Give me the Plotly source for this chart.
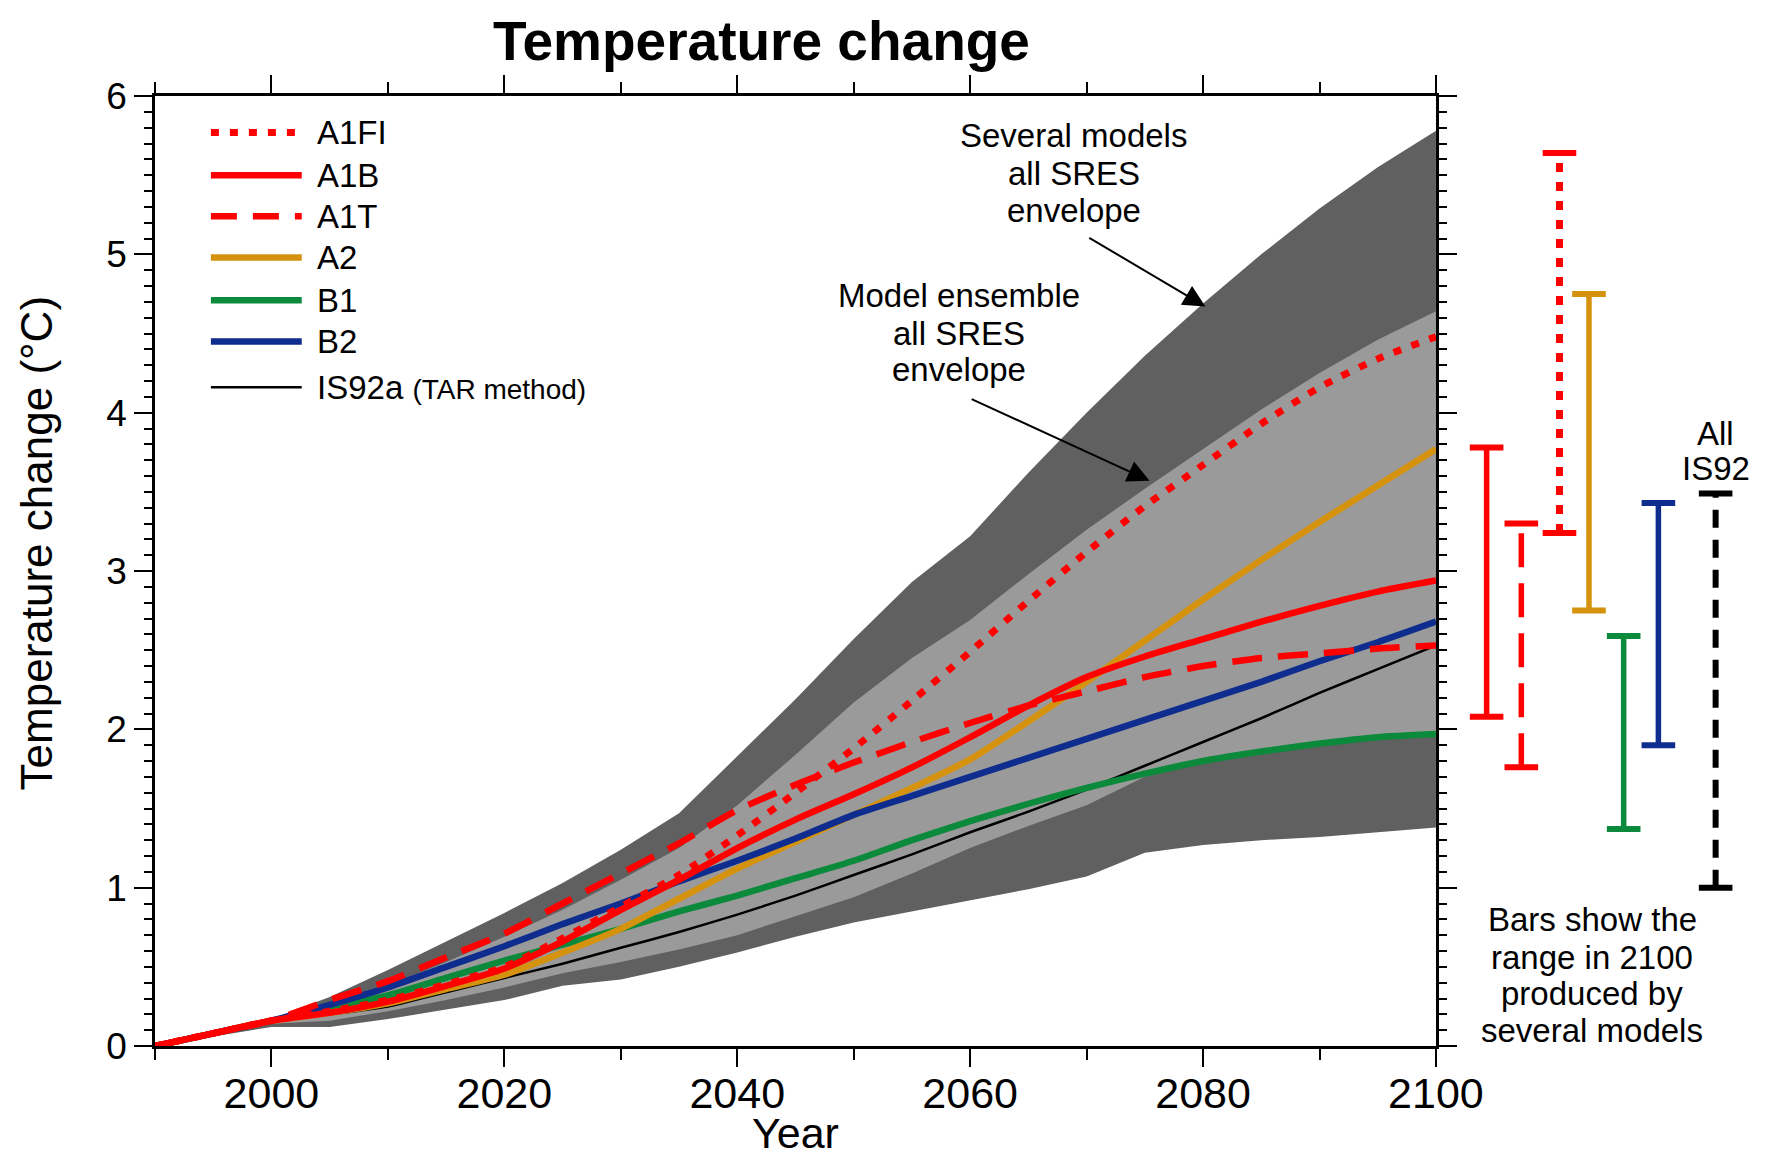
import plotly.graph_objects as go

# scenario curves (deg C relative to 1990)
years = [1990, 1995, 2000, 2005, 2010, 2015, 2020, 2025, 2030, 2035, 2040, 2045, 2050,
         2055, 2060, 2065, 2070, 2075, 2080, 2085, 2090, 2095, 2100]
a1fi = [0, 0.08, 0.16, 0.22, 0.29, 0.39, 0.50, 0.68, 0.88, 1.08, 1.33, 1.60, 1.88,
        2.18, 2.49, 2.81, 3.12, 3.41, 3.67, 3.93, 4.16, 4.34, 4.48]
a1b = [0, 0.08, 0.16, 0.21, 0.28, 0.38, 0.49, 0.66, 0.86, 1.05, 1.25, 1.43, 1.59,
       1.76, 1.95, 2.15, 2.33, 2.46, 2.57, 2.68, 2.78, 2.87, 2.94]
a1t = [0, 0.08, 0.16, 0.29, 0.41, 0.56, 0.71, 0.90, 1.09, 1.28, 1.49, 1.65, 1.79,
       1.92, 2.04, 2.15, 2.24, 2.33, 2.40, 2.45, 2.48, 2.51, 2.53]
a2 = [0, 0.08, 0.16, 0.21, 0.27, 0.36, 0.45, 0.59, 0.74, 0.93, 1.12, 1.29, 1.46,
      1.63, 1.81, 2.05, 2.30, 2.56, 2.82, 3.07, 3.31, 3.54, 3.77]
b1 = [0, 0.08, 0.16, 0.24, 0.32, 0.43, 0.54, 0.64, 0.74, 0.85, 0.95, 1.06, 1.17,
      1.30, 1.42, 1.53, 1.63, 1.72, 1.80, 1.86, 1.91, 1.95, 1.97]
b2 = [0, 0.08, 0.16, 0.26, 0.37, 0.50, 0.63, 0.77, 0.90, 1.04, 1.17, 1.31, 1.46,
      1.58, 1.70, 1.82, 1.94, 2.06, 2.18, 2.30, 2.43, 2.55, 2.68]
is92a = [0, 0.08, 0.16, 0.20, 0.25, 0.34, 0.43, 0.52, 0.62, 0.72, 0.83, 0.95, 1.08,
         1.21, 1.35, 1.48, 1.62, 1.77, 1.92, 2.07, 2.23, 2.38, 2.53]

# envelopes
env_years = [1990, 2000, 2005, 2010, 2015, 2020, 2025, 2030, 2035, 2040, 2045, 2050,
             2055, 2060, 2065, 2070, 2075, 2080, 2085, 2090, 2095, 2100]
outer_hi = [0, 0.17, 0.31, 0.48, 0.66, 0.84, 1.03, 1.24, 1.47, 1.83, 2.19, 2.57,
            2.93, 3.22, 3.62, 4.00, 4.36, 4.69, 5.00, 5.29, 5.55, 5.78]
outer_lo = [0, 0.12, 0.12, 0.17, 0.23, 0.29, 0.38, 0.42, 0.50, 0.59, 0.69, 0.78,
            0.85, 0.92, 0.99, 1.07, 1.22, 1.27, 1.30, 1.32, 1.35, 1.38]
inner_hi = [0, 0.16, 0.25, 0.38, 0.53, 0.69, 0.86, 1.05, 1.25, 1.52, 1.84, 2.17,
            2.45, 2.69, 2.98, 3.26, 3.52, 3.77, 4.02, 4.25, 4.46, 4.64]
inner_lo = [0, 0.14, 0.16, 0.22, 0.29, 0.37, 0.46, 0.53, 0.61, 0.70, 0.82, 0.94,
            1.09, 1.25, 1.39, 1.52, 1.70, 1.80, 1.86, 1.91, 1.95, 1.97]

# ranges in 2100
bar_names = ['A1B', 'A1T', 'A1FI', 'A2', 'B1', 'B2', 'IS92']
bar_low = [2.08, 1.76, 3.24, 2.75, 1.37, 1.90, 1.00]
bar_high = [3.78, 3.30, 5.64, 4.75, 2.59, 3.43, 3.49]
bar_slot = [0, 1, 2.1, 2.95, 3.95, 4.95, 6.6]

RED = '#ff0000'
ORANGE = '#d4920f'
GREEN = '#0a8a3a'
BLUE = '#0e2d8e'
FONT = 'Liberation Sans, Arial, sans-serif'

fig = go.Figure()


def band(hi, lo, color):
    fig.add_trace(go.Scatter(
        x=env_years + env_years[::-1],
        y=hi + lo[::-1],
        fill='toself', fillcolor=color,
        line=dict(width=0), mode='lines',
        hoverinfo='skip', showlegend=False
    ))


band(outer_hi, outer_lo, '#606060')
band(inner_hi, inner_lo, '#9a9a9a')

series = [
    ('IS92a', is92a, 'black', 'solid', 2.5),
    ('B1', b1, GREEN, 'solid', 6.5),
    ('A2', a2, ORANGE, 'solid', 6.5),
    ('B2', b2, BLUE, 'solid', 6.5),
    ('A1B', a1b, RED, 'solid', 6.5),
    ('A1T', a1t, RED, '30px,16px', 6.5),
    ('A1FI', a1fi, RED, '8px,11px', 7),
]
for name, vals, color, dash, width in series:
    fig.add_trace(go.Scatter(
        x=years, y=vals, name=name, mode='lines',
        line=dict(color=color, dash=dash, width=width, shape='spline', smoothing=0.6),
        showlegend=False
    ))

# bars at the right
bar_style = {
    'A1B': (RED, 'solid', 5.5),
    'A1T': (RED, '34px,16px', 5.5),
    'A1FI': (RED, '9px,10px', 7),
    'A2': (ORANGE, 'solid', 5.5),
    'B1': (GREEN, 'solid', 5.5),
    'B2': (BLUE, 'solid', 5.5),
    'IS92': ('black', '18px,12px', 6),
}
for name, lo, hi, slot in zip(bar_names, bar_low, bar_high, bar_slot):
    color, dash, width = bar_style[name]
    fig.add_trace(go.Scatter(
        x=[slot, slot], y=[lo, hi], mode='lines',
        line=dict(color=color, dash=dash, width=width),
        xaxis='x2', yaxis='y', showlegend=False, name=name
    ))
    fig.add_trace(go.Scatter(
        x=[slot, slot], y=[lo, hi], mode='markers',
        marker=dict(symbol='line-ew', size=24, line=dict(color=color, width=6)),
        xaxis='x2', yaxis='y', showlegend=False, name=name, cliponaxis=False
    ))

# hand-made legend
legend_rows = ['A1FI', 'A1B', 'A1T', 'A2', 'B1', 'B2', 'IS92a']
legend_y = [5.77, 5.50, 5.24, 4.98, 4.71, 4.45, 4.16]
legend_style = {
    'A1FI': (RED, '8px,11px', 7),
    'A1B': (RED, 'solid', 6.5),
    'A1T': (RED, '26px,16px', 6.5),
    'A2': (ORANGE, 'solid', 6.5),
    'B1': (GREEN, 'solid', 6.5),
    'B2': (BLUE, 'solid', 6.5),
    'IS92a': ('black', 'solid', 2.5),
}
shapes = []
annotations = []
for name, yv in zip(legend_rows, legend_y):
    color, dash, width = legend_style[name]
    shapes.append(dict(type='line', xref='x', yref='y', x0=1994.8, x1=2002.6, y0=yv, y1=yv,
                       line=dict(color=color, dash=dash, width=width)))
    label = name if name != 'IS92a' else "IS92a <span style='font-size:28px'>(TAR method)</span>"
    annotations.append(dict(x=2003.7, y=yv, xref='x', yref='y', text=label, showarrow=False,
                            xanchor='left', yanchor='middle', font=dict(size=33, color='black')))

# envelope labels
label_lines = [
    (2068.9, [5.75, 5.51, 5.28], ['Several models', 'all SRES', 'envelope']),
    (2059.0, [4.74, 4.50, 4.27], ['Model ensemble', 'all SRES', 'envelope']),
]
for xc, ys, texts in label_lines:
    for yv, t in zip(ys, texts):
        annotations.append(dict(x=xc, y=yv, xref='x', yref='y', text=t, showarrow=False,
                                xanchor='center', yanchor='middle', font=dict(size=33, color='black')))

arrows = [((2080.2, 4.67), (2070.1, 5.11)), ((2075.4, 3.57), (2060.0, 4.09))]
for (tx, ty), (sx, sy) in arrows:
    annotations.append(dict(x=tx, y=ty, ax=sx, ay=sy, xref='x', yref='y', axref='x', ayref='y',
                            text='', showarrow=True, arrowhead=2, arrowsize=2.2, arrowwidth=2,
                            arrowcolor='black'))

# bar notes
annotations.append(dict(x=bar_slot[-1], y=3.87, xref='x2', yref='y', text='All', showarrow=False,
                        font=dict(size=33, color='black')))
annotations.append(dict(x=bar_slot[-1], y=3.65, xref='x2', yref='y', text='IS92', showarrow=False,
                        font=dict(size=33, color='black')))
note_lines = ['Bars show the', 'range in 2100', 'produced by', 'several models']
note_y = [0.80, 0.56, 0.33, 0.10]
for t, yv in zip(note_lines, note_y):
    annotations.append(dict(x=3.05, y=yv, xref='x2', yref='y', text=t, showarrow=False,
                            font=dict(size=33, color='black')))

# titles (paper coordinates, outside the plot area)
annotations.append(dict(x=0.3784, y=1.058, xref='paper', yref='paper', text='<b>Temperature change</b>',
                        xanchor='center', yanchor='middle', borderpad=0,
                        showarrow=False, font=dict(size=55, color='black')))
annotations.append(dict(x=0.3996, y=-0.0915, xref='paper', yref='paper', text='Year',
                        xanchor='center', yanchor='middle', borderpad=0,
                        showarrow=False, font=dict(size=43, color='black')))
annotations.append(dict(x=-0.0742, y=0.529, xref='paper', yref='paper', text='Temperature change (\u00b0C)',
                        xanchor='center', yanchor='middle',
                        textangle=-90, showarrow=False, font=dict(size=44, color='black')))

fig.update_layout(
    width=1761, height=1152,
    margin=dict(l=147, r=10, t=88, b=114, autoexpand=False),
    paper_bgcolor='white', plot_bgcolor='white',
    font=dict(family=FONT, color='black'),
    showlegend=False,
    shapes=shapes,
    annotations=annotations,
    xaxis=dict(
        domain=[0, 0.7986], range=[1990, 2100], tick0=2000, dtick=20,
        ticks='outside', ticklen=18, tickwidth=2, tickcolor='black',
        minor=dict(dtick=10, tick0=2000, ticks='outside', ticklen=11, tickwidth=2, tickcolor='black'),
        showline=True, linewidth=2.5, linecolor='black', mirror='ticks',
        showgrid=False, zeroline=False, tickfont=dict(size=43), ticklabelstandoff=-10,
        automargin=False
    ),
    yaxis=dict(
        range=[0, 6], dtick=1,
        ticks='outside', ticklen=18, tickwidth=2, tickcolor='black',
        minor=dict(dtick=0.1, ticks='outside', ticklen=8, tickwidth=2, tickcolor='black'),
        showline=True, linewidth=2.5, linecolor='black', mirror='ticks',
        showgrid=False, zeroline=False, tickfont=dict(size=37), ticklabelstandoff=0,
        automargin=False
    ),
    xaxis2=dict(domain=[0.7986, 1], range=[-1.46, 7.85], visible=False, anchor='y',
                automargin=False),
)

fig.write_html("out.html")
